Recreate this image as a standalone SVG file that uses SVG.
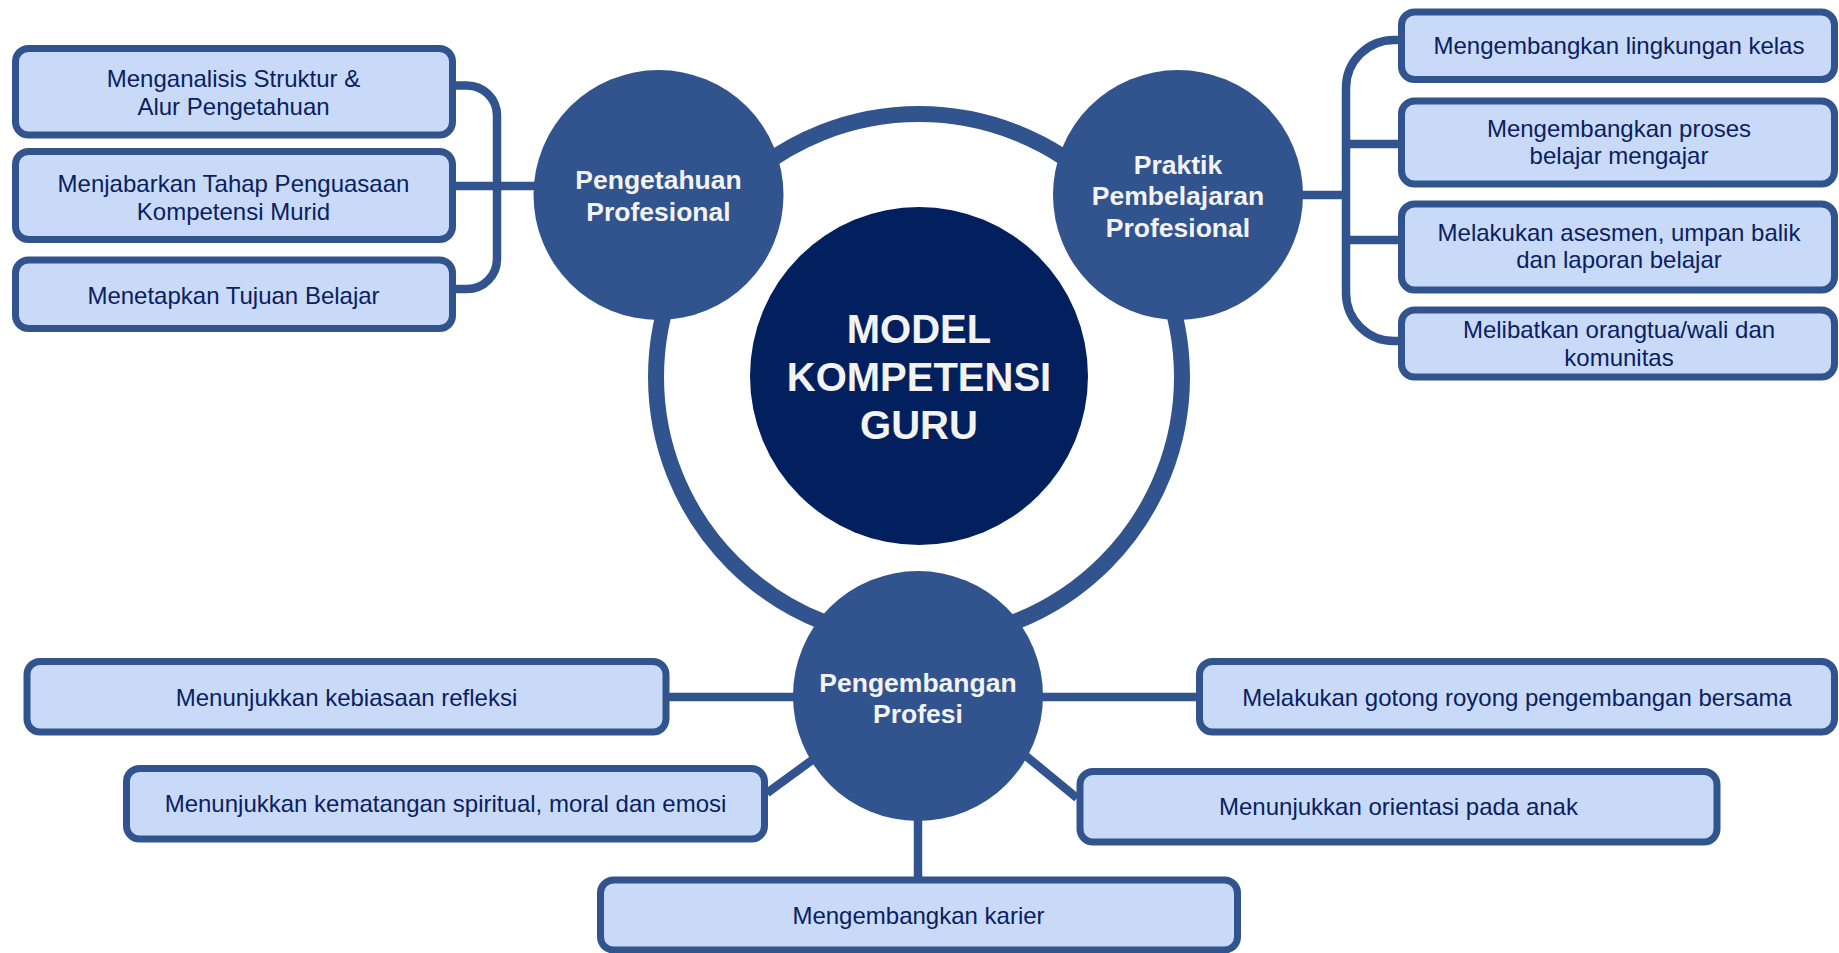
<svg xmlns="http://www.w3.org/2000/svg" width="1839" height="953" viewBox="0 0 1839 953">
<style>
.box{fill:#c9daf8;stroke:#32548e;stroke-width:7}
.bt{font-family:"Liberation Sans",Arial,sans-serif;font-size:24px;fill:#0a2160;text-anchor:middle}
.circ{fill:#32548e}
.ct{font-family:"Liberation Sans",Arial,sans-serif;font-size:26.5px;font-weight:bold;fill:#f3f3f3;text-anchor:middle}
.mt{font-family:"Liberation Sans",Arial,sans-serif;font-size:40px;font-weight:bold;fill:#f3f3f3;text-anchor:middle}
.con{fill:none;stroke:#32548e;stroke-width:8.5}
</style>
<rect width="1839" height="953" fill="#ffffff"/>
<g id="connectors">
<circle cx="919" cy="377" r="263" fill="none" stroke="#32548e" stroke-width="16"/>
<path class="con" d="M456 85.5 H467 A30 30 0 0 1 497 115.5 V259 A30 30 0 0 1 467 289 H456"/>
<path class="con" d="M456 186 H545"/>
<path class="con" d="M1398 40 H1394 A48 48 0 0 0 1346 88 V293 A48 48 0 0 0 1394 341 H1398"/>
<path class="con" d="M1290 195 H1346"/>
<path class="con" d="M1346 144 H1398"/>
<path class="con" d="M1346 240 H1398"/>
<path class="con" d="M669 697 H800"/>
<path class="con" d="M767 793 L815 758"/>
<path class="con" d="M918 810 V877"/>
<path class="con" d="M1036 697 H1196"/>
<path class="con" d="M1026 756 L1077 798"/>
</g>
<g id="center">
<circle cx="919" cy="376" r="169" fill="#03205e"/>
<text class="mt" x="919" y="343">MODEL</text>
<text class="mt" x="919" y="391">KOMPETENSI</text>
<text class="mt" x="919" y="439">GURU</text>
</g>
<g id="pengetahuan">
<circle class="circ" cx="658.5" cy="195" r="125"/>
<text class="ct" x="658.5" y="189">Pengetahuan</text>
<text class="ct" x="658.5" y="220.5">Profesional</text>
</g>
<g id="praktik">
<circle class="circ" cx="1178" cy="195" r="125"/>
<text class="ct" x="1178" y="173.5">Praktik</text>
<text class="ct" x="1178" y="205">Pembelajaran</text>
<text class="ct" x="1178" y="236.5">Profesional</text>
</g>
<g id="pengembangan">
<circle class="circ" cx="918" cy="696" r="125"/>
<text class="ct" x="918" y="691.5">Pengembangan</text>
<text class="ct" x="918" y="723">Profesi</text>
</g>
<g id="k1">
<rect class="box" x="15.5" y="48.5" width="437" height="86.5" rx="13"/>
<text class="bt" x="233.5" y="87.3">Menganalisis Struktur &amp;</text>
<text class="bt" x="233.5" y="115">Alur Pengetahuan</text>
</g>
<g id="k2">
<rect class="box" x="15.5" y="151.5" width="437" height="88" rx="13"/>
<text class="bt" x="233.5" y="192.3">Menjabarkan Tahap Penguasaan</text>
<text class="bt" x="233.5" y="220">Kompetensi Murid</text>
</g>
<g id="k3">
<rect class="box" x="15.5" y="260" width="437" height="68.5" rx="13"/>
<text class="bt" x="233.5" y="303.5">Menetapkan Tujuan Belajar</text>
</g>
<g id="p1">
<rect class="box" x="1401.5" y="12" width="433" height="67.5" rx="13"/>
<text class="bt" x="1619" y="54">Mengembangkan lingkungan kelas</text>
</g>
<g id="p2">
<rect class="box" x="1401.5" y="101" width="433" height="83" rx="13"/>
<text class="bt" x="1619" y="136.7">Mengembangkan proses</text>
<text class="bt" x="1619" y="164">belajar mengajar</text>
</g>
<g id="p3">
<rect class="box" x="1401.5" y="204" width="433" height="86" rx="13"/>
<text class="bt" x="1619" y="240.7">Melakukan asesmen, umpan balik</text>
<text class="bt" x="1619" y="268.3">dan laporan belajar</text>
</g>
<g id="p4">
<rect class="box" x="1401.5" y="310" width="433" height="67" rx="13"/>
<text class="bt" x="1619" y="338">Melibatkan orangtua/wali dan</text>
<text class="bt" x="1619" y="365.7">komunitas</text>
</g>
<g id="b1">
<rect class="box" x="27" y="661.5" width="639" height="70.5" rx="13"/>
<text class="bt" x="346.5" y="705.7">Menunjukkan kebiasaan refleksi</text>
</g>
<g id="b2">
<rect class="box" x="126.5" y="768.5" width="638" height="70.5" rx="13"/>
<text class="bt" x="445.5" y="812.3">Menunjukkan kematangan spiritual, moral dan emosi</text>
</g>
<g id="b3">
<rect class="box" x="600.5" y="880" width="637" height="70" rx="13"/>
<text class="bt" x="918.5" y="924">Mengembangkan karier</text>
</g>
<g id="b4">
<rect class="box" x="1199.5" y="661.5" width="635" height="70.5" rx="13"/>
<text class="bt" x="1517" y="705.7">Melakukan gotong royong pengembangan bersama</text>
</g>
<g id="b5">
<rect class="box" x="1080" y="771.5" width="637" height="70.5" rx="13"/>
<text class="bt" x="1398.5" y="815">Menunjukkan orientasi pada anak</text>
</g>
</svg>
